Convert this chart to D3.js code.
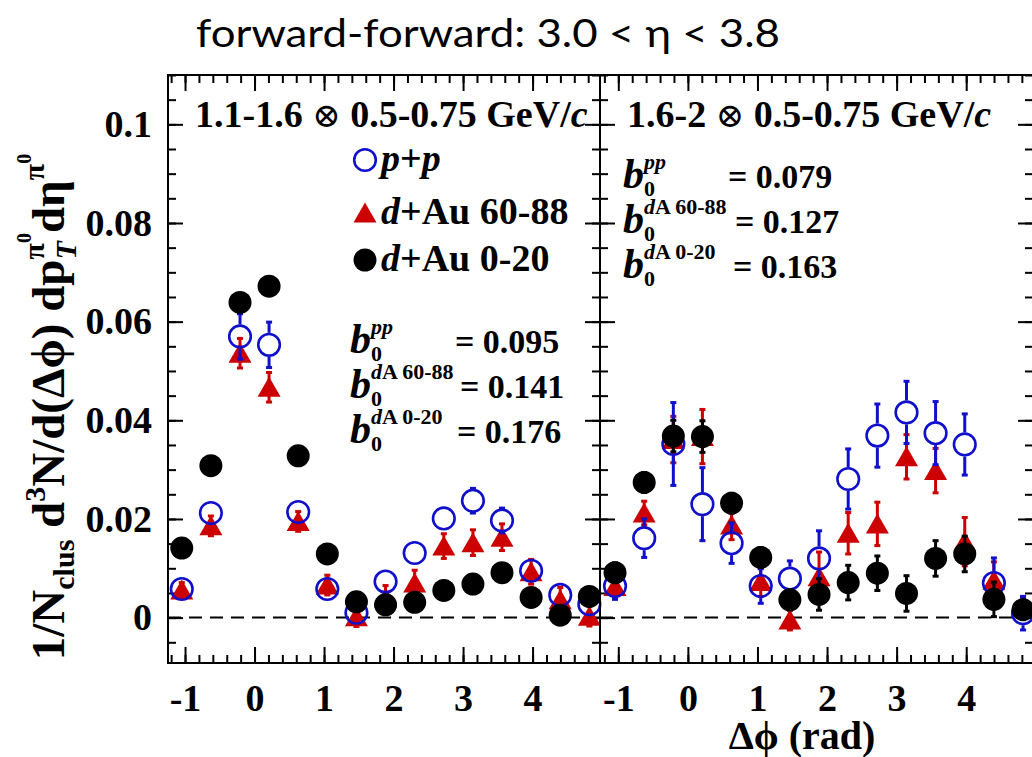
<!DOCTYPE html>
<html>
<head>
<meta charset="utf-8">
<script src="https://cdn.jsdelivr.net/npm/d3@7"></script>
<style>
  body { margin: 0; background: #fff; }
  text { white-space: pre; }
</style>
</head>
<body>
<svg id="chart" width="1032" height="757"></svg>
<script>
// bin centres in delta-phi (rad), same for both panels
const dphi = [-1.047, -0.628, -0.209, 0.209, 0.628, 1.047, 1.466, 1.885, 2.304, 2.723, 3.142, 3.560, 3.979, 4.398, 4.817];

// left panel: 1.1-1.6 x 0.5-0.75 GeV/c
const ppLeft       = [0.0058, 0.0212, 0.0570, 0.0553, 0.0214, 0.0058, 0.0010, 0.0073, 0.0131, 0.0201, 0.0237, 0.0197, 0.0095, 0.0046, 0.0027];
const ppLeftErr    = [0.0015, 0.0020, 0.0046, 0.0046, 0.0021, 0.0015, 0.0015, 0.0024, 0.0024, 0.0024, 0.0025, 0.0025, 0.0024, 0.0024, 0.0020];
const periphLeft   = [0.0056, 0.0186, 0.0536, 0.0467, 0.0195, 0.0066, 0.0002, 0.0040, 0.0070, 0.0145, 0.0152, 0.0163, 0.0093, 0.0036, 0.0003];
const periphLeftErr= [0.0015, 0.0020, 0.0030, 0.0030, 0.0020, 0.0020, 0.0020, 0.0025, 0.0026, 0.0025, 0.0026, 0.0027, 0.0025, 0.0025, 0.0020];
const centLeft     = [0.0141, 0.0308, 0.0639, 0.0672, 0.0328, 0.0129, 0.0032, 0.0026, 0.0031, 0.0055, 0.0068, 0.0091, 0.0041, 0.0005, 0.0043];
const centLeftErr  = [0.0008, 0.0008, 0.0008, 0.0008, 0.0008, 0.0008, 0.0008, 0.0008, 0.0008, 0.0008, 0.0008, 0.0008, 0.0008, 0.0008, 0.0008];

// right panel: 1.6-2 x 0.5-0.75 GeV/c
const ppRight       = [0.0064, 0.0161, 0.0352, 0.0230, 0.0151, 0.0064, 0.0079, 0.0120, 0.0281, 0.0369, 0.0416, 0.0374, 0.0351, 0.0070, 0.0009];
const ppRightErr    = [0.0027, 0.0039, 0.0084, 0.0074, 0.0041, 0.0035, 0.0036, 0.0056, 0.0061, 0.0064, 0.0063, 0.0064, 0.0062, 0.0051, 0.0034];
const periphRight   = [0.0063, 0.0212, 0.0361, 0.0367, 0.0188, 0.0073, -0.0005, 0.0083, 0.0171, 0.0190, 0.0326, 0.0298, 0.0154, 0.0076, 0.0022];
const periphRightErr= [0.0020, 0.0024, 0.0047, 0.0055, 0.0030, 0.0030, 0.0020, 0.0050, 0.0042, 0.0044, 0.0045, 0.0045, 0.0049, 0.0037, 0.0020];
const centRight     = [0.0091, 0.0274, 0.0368, 0.0367, 0.0232, 0.0122, 0.0036, 0.0047, 0.0071, 0.0090, 0.0049, 0.0120, 0.0129, 0.0037, 0.0016];
const centRightErr  = [0.0020, 0.0020, 0.0032, 0.0032, 0.0020, 0.0020, 0.0020, 0.0032, 0.0035, 0.0035, 0.0036, 0.0036, 0.0036, 0.0035, 0.0020];

// b0 pedestal values quoted in each panel
const b0Labels = ["pp", "dA 60-88", "dA 0-20"];
const b0Left  = ["0.095", "0.141", "0.176"];
const b0Right = ["0.079", "0.127", "0.163"];

const xTickVals = [-1, 0, 1, 2, 3, 4];
const yTickVals = [0, 0.02, 0.04, 0.06, 0.08, 0.1];

const BLUE = "#1010cc", RED = "#cc0000", BLACK = "#000";
const SERIF = "'Liberation Serif', 'Times New Roman', 'DejaVu Serif', serif";

const svg = d3.select("#chart");
const plotTop = 75, plotBottom = 663;

const y = d3.scaleLinear().domain([-0.0092, 0.110]).range([plotBottom, plotTop]);

// little rich-text helper: pieces laid out one after another, sub/sup with dy
function rich(parent, pieces, x0, y0, anchor) {
  const g = parent.append("g");
  let x = 0;
  pieces.forEach(p => {
    const t = g.append("text")
      .attr("x", x).attr("y", p.dy || 0)
      .attr("xml:space", "preserve")
      .style("font-family", SERIF)
      .style("font-weight", p.normal ? "normal" : "bold")
      .style("font-style", p.it ? "italic" : "normal")
      .style("font-size", p.size + "px")
      .attr("fill", "#000")
      .text(p.t);
    const w = t.node().getComputedTextLength();
    if (!p.stack) x += w;
  });
  const shift = anchor === "middle" ? -x / 2 : anchor === "end" ? -x : 0;
  g.attr("transform", `translate(${x0 + shift},${y0})`);
  return g;
}

const panels = [
  { x0: 168, x1: 600, dom: [-1.245, 4.97],
    pp: ppLeft, ppErr: ppLeftErr, per: periphLeft, perErr: periphLeftErr, cen: centLeft, cenErr: centLeftErr,
    head: "1.1-1.6 ", b0: b0Left, b0x: 350, b0y: [353, 398, 443], valX: [455, 460, 457], labels: true },
  { x0: 600, x1: 1033, dom: [-1.263, 4.96],
    pp: ppRight, ppErr: ppRightErr, per: periphRight, perErr: periphRightErr, cen: centRight, cenErr: centRightErr,
    head: "1.6-2 ", b0: b0Right, b0x: 623, b0y: [188, 233, 278], valX: [728, 735, 733], labels: false }
];

panels.forEach(P => {
  const x = d3.scaleLinear().domain(P.dom).range([P.x0, P.x1]);
  const g = svg.append("g");
  const minorX = d3.range(-1.2, 5.0, 0.2).filter(v => v > P.dom[0] && v < P.dom[1]);
  const minorY = d3.range(-0.005, 0.1101, 0.005);

  // ticks, all pointing inwards
  const axes = [
    [d3.axisBottom(x).tickValues(xTickVals).tickSize(-16), plotBottom],
    [d3.axisBottom(x).tickValues(minorX).tickSize(-8), plotBottom],
    [d3.axisTop(x).tickValues(xTickVals).tickSize(-16), plotTop],
    [d3.axisTop(x).tickValues(minorX).tickSize(-8), plotTop]
  ];
  axes.forEach(([ax, pos], i) => {
    const a = g.append("g").attr("transform", `translate(0,${pos})`)
      .call(ax.tickPadding(21).tickFormat(i === 0 ? (d => String(d)) : ""));
    a.select(".domain").remove();
    a.selectAll("line").attr("stroke", "#000").attr("stroke-width", 2);
    a.selectAll("text").style("font-family", SERIF).style("font-weight", "bold")
      .style("font-size", "38px").attr("fill", "#000");
  });

  const yAxes = [
    [d3.axisLeft(y).tickValues(yTickVals).tickSize(-15), P.x0, P.labels],
    [d3.axisLeft(y).tickValues(minorY).tickSize(-8), P.x0, false],
    [d3.axisRight(y).tickValues(yTickVals).tickSize(-15), P.x1, false],
    [d3.axisRight(y).tickValues(minorY).tickSize(-8), P.x1, false]
  ];
  yAxes.forEach(([ax, pos, lab]) => {
    const a = g.append("g").attr("transform", `translate(${pos},0)`)
      .call(ax.tickPadding(16).tickFormat(lab ? (d => d === 0 ? "0" : String(+d.toFixed(2))) : ""));
    a.select(".domain").remove();
    a.selectAll("line").attr("stroke", "#000").attr("stroke-width", 2);
    a.selectAll("text").style("font-family", SERIF).style("font-weight", "bold")
      .style("font-size", "38px").attr("fill", "#000");
  });

  // dashed zero line
  g.append("line")
    .attr("x1", P.x0).attr("x2", P.x1).attr("y1", y(0)).attr("y2", y(0))
    .attr("stroke", "#000").attr("stroke-width", 2).attr("stroke-dasharray", "13,8");

  // frame
  g.append("rect").attr("x", P.x0).attr("y", plotTop)
    .attr("width", P.x1 - P.x0).attr("height", plotBottom - plotTop)
    .attr("fill", "none").attr("stroke", "#000").attr("stroke-width", 2);

  // error bars; gap inside open markers
  function errBars(vals, errs, color, gap) {
    const eg = g.append("g").attr("fill", color).attr("stroke", color);
    vals.forEach((v, i) => {
      const cx = x(dphi[i]), cy = y(v), hi = y(v + errs[i]), lo = y(v - errs[i]);
      if (cy - hi > gap) {
        eg.append("line").attr("x1", cx).attr("x2", cx).attr("y1", cy - gap).attr("y2", hi).attr("stroke-width", 3);
        eg.append("rect").attr("x", cx - 3).attr("y", hi - 1.5).attr("width", 6).attr("height", 3).attr("stroke", "none");
      }
      if (lo - cy > gap) {
        eg.append("line").attr("x1", cx).attr("x2", cx).attr("y1", cy + gap).attr("y2", lo).attr("stroke-width", 3);
        eg.append("rect").attr("x", cx - 3).attr("y", lo - 1.5).attr("width", 6).attr("height", 3).attr("stroke", "none");
      }
    });
  }

  // d+Au 60-88: red triangles
  errBars(P.per, P.perErr, RED, 0);
  g.append("g").selectAll("path").data(P.per).join("path")
    .attr("d", (d, i) => {
      const cx = x(dphi[i]), cy = y(d);
      return `M${cx - 11.5},${cy + 9.5}L${cx + 11.5},${cy + 9.5}L${cx},${cy - 10.5}Z`;
    })
    .attr("fill", RED);

  // p+p: blue open circles
  errBars(P.pp, P.ppErr, BLUE, 12);
  g.append("g").selectAll("circle").data(P.pp).join("circle")
    .attr("cx", (d, i) => x(dphi[i])).attr("cy", d => y(d)).attr("r", 10.8)
    .attr("fill", "none").attr("stroke", BLUE).attr("stroke-width", 2.6);

  // d+Au 0-20: black filled circles
  errBars(P.cen, P.cenErr, BLACK, 0);
  g.append("g").selectAll("circle").data(P.cen).join("circle")
    .attr("cx", (d, i) => x(dphi[i])).attr("cy", d => y(d)).attr("r", 11.5)
    .attr("fill", BLACK);

  // panel header
  rich(svg, [
    { t: P.head, size: 38 },
    { t: "\u2297", size: 34, normal: true },
    { t: " 0.5-0.75 GeV/", size: 38 },
    { t: "c", size: 38, it: true }
  ], P.x0 + 27, 127, "start");

  // b0 rows
  b0Labels.forEach((lab, k) => {
    const sup = lab === "pp"
      ? [{ t: "pp", size: 22, it: true, dy: -19 }]
      : [{ t: "d", size: 22, it: true, dy: -19 }, { t: lab.slice(1), size: 22, dy: -19 }];
    rich(svg, [{ t: "b", size: 42, it: true }, { t: "0", size: 22, dy: 8, stack: true }].concat(sup),
      P.b0x, P.b0y[k], "start");
    rich(svg, [{ t: "= " + P.b0[k], size: 34 }], P.valX[k], P.b0y[k], "start");
  });
});

// legend in the left panel
const legend = [
  { y: 160, kind: "open", txt: [{ t: "p", it: true, size: 38 }, { t: "+", size: 38 }, { t: "p", it: true, size: 38 }] },
  { y: 213, kind: "tri", txt: [{ t: "d", it: true, size: 38 }, { t: "+Au 60-88", size: 38 }] },
  { y: 260, kind: "full", txt: [{ t: "d", it: true, size: 38 }, { t: "+Au 0-20", size: 38 }] }
];
legend.forEach(L => {
  const cx = 365;
  if (L.kind === "open") svg.append("circle").attr("cx", cx).attr("cy", L.y).attr("r", 10.8)
    .attr("fill", "none").attr("stroke", BLUE).attr("stroke-width", 2.6);
  if (L.kind === "tri") svg.append("path")
    .attr("d", `M${cx - 11.5},${L.y + 9.5}L${cx + 11.5},${L.y + 9.5}L${cx},${L.y - 10.5}Z`).attr("fill", RED);
  if (L.kind === "full") svg.append("circle").attr("cx", cx).attr("cy", L.y).attr("r", 11.5).attr("fill", BLACK);
  rich(svg, L.txt, 381, L.y + 11, "start");
});

// y axis title (rotated)
const yl = svg.append("g").attr("transform", "translate(64,407) rotate(-90)");
rich(yl, [
  { t: "1/N", size: 47 },
  { t: "clus", size: 30, dy: 10 },
  { t: " d", size: 47 },
  { t: "3", size: 30, dy: -19 },
  { t: "N/d(\u0394\u03d5) dp", size: 47 },
  { t: "T", size: 30, it: true, dy: 12, stack: true },
  { t: "\u03c0", size: 30, dy: -20 },
  { t: "0", size: 20, dy: -33 },
  { t: "d\u03b7", size: 47 },
  { t: "\u03c0", size: 30, dy: -20 },
  { t: "0", size: 20, dy: -33 }
], 0, 0, "middle");

// x axis title
rich(svg, [{ t: "\u0394\u03d5 (rad)", size: 40 }], 802, 749, "middle");

// slide title
svg.append("text")
  .attr("x", 196).attr("y", 47)
  .attr("textLength", 584).attr("lengthAdjust", "spacingAndGlyphs")
  .style("font-family", "Lato, 'Open Sans', sans-serif")
  .style("font-size", "38px")
  .attr("fill", "#000")
  .text("forward-forward: 3.0 < \u03b7 < 3.8");
</script>
</body>
</html>
